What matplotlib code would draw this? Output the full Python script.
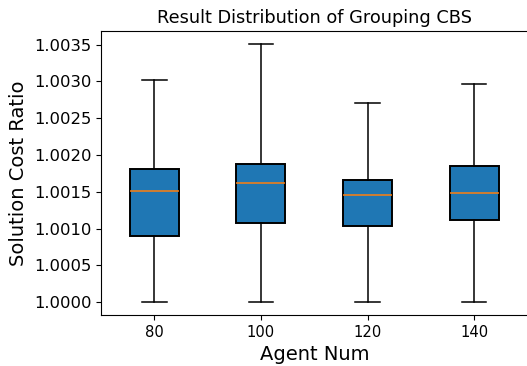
import matplotlib
matplotlib.use("Agg")
import matplotlib.pyplot as plt

agent_nums = [80, 100, 120, 140]
whislo = [1.0000, 1.0000, 1.0000, 1.0000]
q1 = [1.00090, 1.00108, 1.00104, 1.00112]
med = [1.00151, 1.00162, 1.00145, 1.00148]
q3 = [1.00181, 1.00188, 1.00166, 1.00185]
whishi = [1.00302, 1.00351, 1.00270, 1.00297]

stats = []
for i in range(len(agent_nums)):
    stats.append({"label": str(agent_nums[i]), "whislo": whislo[i], "q1": q1[i],
                  "med": med[i], "q3": q3[i], "whishi": whishi[i], "fliers": []})

fig = plt.figure(figsize=(5.27, 3.66), dpi=100)
ax = fig.add_axes([101 / 527, 1 - 315 / 366, 426.5 / 527, 284 / 366])

ax.bxp(stats, patch_artist=True, widths=0.46,
       boxprops=dict(facecolor="#1f77b4", edgecolor="black", linewidth=1.4),
       whiskerprops=dict(linewidth=1.1),
       capprops=dict(linewidth=1.1),
       medianprops=dict(color="#ff7f0e", linewidth=1.1))

ax.spines["right"].set_visible(False)
ax.tick_params(axis="x", labelsize=10.6)
ax.tick_params(axis="y", labelsize=11.8)
ax.set_title("Result Distribution of Grouping CBS", fontsize=12.8)
ax.set_xlabel("Agent Num", fontsize=14)
ax.set_ylabel("Solution Cost Ratio", fontsize=14)

fig.savefig("out.png", dpi=100)
